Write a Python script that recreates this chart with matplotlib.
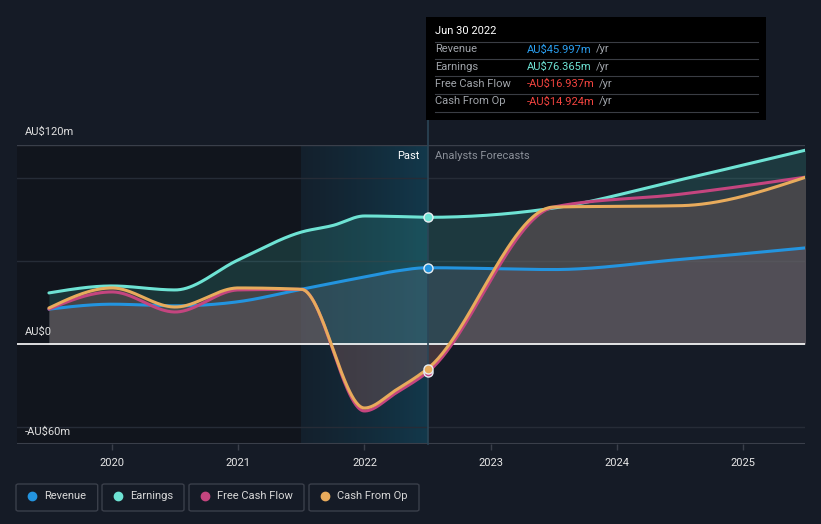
import numpy as np
import matplotlib
matplotlib.use("Agg")
import matplotlib.pyplot as plt
from matplotlib.patches import Rectangle, FancyBboxPatch, Circle
from matplotlib.lines import Line2D

plt.rcParams['font.family'] = ['Roboto', 'DejaVu Sans']

# ---------------- data (AU$ m) ----------------
rev_x = [2019.5, 2020.0, 2020.5, 2021.0, 2021.5, 2021.75, 2022.0, 2022.25, 2022.5, 2023.5, 2024.5, 2025.5]
rev_y = [21.0, 24.0, 23.0, 25.5, 33.0, 36.8, 40.4, 44.0, 46.0, 44.9, 51.0, 58.0]

earn_x = [2019.5, 2020.0, 2020.5, 2021.0, 2021.5, 2021.75, 2022.0, 2022.25, 2022.5, 2023.5, 2024.5, 2025.5]
earn_y = [30.8, 35.0, 32.6, 50.7, 67.5, 71.5, 77.2, 76.9, 76.4, 82.0, 99.0, 117.0]

fcf_x = [2019.5, 2020.0, 2020.5, 2021.0, 2021.5, 2022.0, 2022.25, 2022.5, 2023.5, 2024.5, 2025.5]
fcf_y = [21.0, 31.4, 19.3, 32.6, 33.0, -40.4, -29.5, -16.9, 82.6, 90.3, 100.7]

cfo_x = [2019.5, 2020.0, 2020.5, 2021.0, 2021.5, 2022.0, 2022.25, 2022.5, 2023.5, 2024.5, 2025.5]
cfo_y = [21.7, 33.8, 22.3, 33.8, 33.0, -38.6, -27.7, -14.9, 82.6, 83.4, 100.7]

year_ticks = [2020, 2021, 2022, 2023, 2024, 2025]
y_labels = {120: "AU$120m", 0: "AU$0", -60: "-AU$60m"}

tooltip_date = "Jun 30 2022"
tooltip_rows = [("Revenue", "AU$45.997m"), ("Earnings", "AU$76.365m"),
                ("Free Cash Flow", "-AU$16.937m"), ("Cash From Op", "-AU$14.924m")]
legend_names = ["Revenue", "Earnings", "Free Cash Flow", "Cash From Op"]

now_x = 2022.5
past_start = 2021.5

C_REV = "#2394df"
C_EARN = "#6ee3d4"
C_FCF = "#c4457f"
C_CFO = "#e8ab5c"
BG = "#151b26"


def monotone(x, y, n=60):
    x = np.asarray(x, float); y = np.asarray(y, float)
    h = np.diff(x); s = np.diff(y) / h
    m = len(x)
    t = np.zeros(m)
    for i in range(1, m - 1):
        p = (s[i - 1] * h[i] + s[i] * h[i - 1]) / (h[i - 1] + h[i])
        t[i] = (np.sign(s[i - 1]) + np.sign(s[i])) * min(abs(s[i - 1]), abs(s[i]), 0.5 * abs(p))
    t[0] = (3 * s[0] - t[1]) / 2
    t[-1] = (3 * s[-1] - t[-2]) / 2
    xs, ys = [], []
    for i in range(m - 1):
        u = np.linspace(0, 1, n, endpoint=(i == m - 2))
        h00 = 2 * u**3 - 3 * u**2 + 1
        h10 = u**3 - 2 * u**2 + u
        h01 = -2 * u**3 + 3 * u**2
        h11 = u**3 - u**2
        xs.append(x[i] + u * h[i])
        ys.append(h00 * y[i] + h10 * h[i] * t[i] + h01 * y[i + 1] + h11 * h[i] * t[i + 1])
    return np.concatenate(xs), np.concatenate(ys)


W, H = 821, 524
fig = plt.figure(figsize=(W / 100, H / 100), dpi=100, facecolor=BG)
L, R, T, B = 17, 805, 145, 444
ax = fig.add_axes([L / W, 1 - B / H, (R - L) / W, (B - T) / H])
ax.set_facecolor(BG)
xmin, xmax = 2019.247, 2025.49
ymin, ymax = -60.3, 120
ax.set_xlim(xmin, xmax)
ax.set_ylim(ymin, ymax)
for sp in ax.spines.values():
    sp.set_visible(False)

# darker region before the past window
ax.axvspan(xmin, past_start, color="#0f1217", alpha=0.6, lw=0, zorder=0)
# past highlight gradient
grad = np.linspace(0, 1, 256).reshape(1, -1)
from matplotlib.colors import LinearSegmentedColormap
cmap = LinearSegmentedColormap.from_list("g", [(0.05, 0.25, 0.33, 0.15), (0.07, 0.32, 0.42, 0.55)])
ax.imshow(grad, extent=[past_start, now_x, ymin, ymax], aspect="auto", cmap=cmap, zorder=0.5,
          interpolation="bilinear")

# gridlines
for gv, gc in [(100, "#262c37"), (50, "#262c37"), (-50, "#262c37")]:
    ax.axhline(gv, color=gc, lw=1, zorder=1)
ax.axhline(120, color="#3a3f4a", lw=1, zorder=1)
ax.axhline(ymin, color="#3a3f4a", lw=1.5, zorder=1)

series = [
    (earn_x, earn_y, C_EARN, "#3ba89c", 0.22),
    (rev_x, rev_y, C_REV, "#5a6a80", 0.30),
    (cfo_x, cfo_y, C_CFO, "#8a6a5a", 0.28),
    (fcf_x, fcf_y, C_FCF, "#7a4a60", 0.18),
]
curves = {}
for xs_, ys_, c, fc, a in series:
    xx, yy = monotone(xs_, ys_)
    curves[c] = (xx, yy)
    ax.fill_between(xx, yy, 0, color=fc, alpha=a, lw=0, zorder=2)

ax.axhline(0, color="white", lw=1.2, zorder=3)

for c in [C_REV, C_EARN, C_FCF, C_CFO]:
    xx, yy = curves[c]
    ax.plot(xx, yy, color=c, lw=2.2, zorder=4, solid_capstyle="round")

# vertical now line
ax.plot([now_x, now_x], [ymin, 135], color="#2b4657", lw=1.2, zorder=3.5, clip_on=False)

# markers at now
for xs_, ys_, c in [(rev_x, rev_y, C_REV), (earn_x, earn_y, C_EARN), (fcf_x, fcf_y, C_FCF), (cfo_x, cfo_y, C_CFO)]:
    i = xs_.index(now_x)
    ax.plot([now_x], [ys_[i]], "o", ms=6.5, mfc=c, mec="#e8eef2", mew=1.0, zorder=5)

# x ticks
ax.set_xticks(year_ticks)
ax.set_xticklabels([str(y) for y in year_ticks])
ax.tick_params(axis="x", colors="#3a3f4a", length=4, width=1, labelcolor="#e6e6e6", labelsize=8, pad=6)
ax.set_yticks([])

# y labels
def fy(v):
    return 344 - v * 1.658

fig.text(25 / W, 1 - 132 / H, y_labels[120], color="#e0e0e0", fontsize=8, va="center", ha="left")
fig.text(25 / W, 1 - 332 / H, y_labels[0], color="#e0e0e0", fontsize=8, va="center", ha="left")
fig.text(25 / W, 1 - 432 / H, y_labels[-60], color="#e0e0e0", fontsize=8, va="center", ha="left")

# Past / Analysts Forecasts
fig.text(419 / W, 1 - 156 / H, "Past", color="#ffffff", fontsize=8, va="center", ha="right")
fig.text(435 / W, 1 - 156 / H, "Analysts Forecasts", color="#8b9099", fontsize=8, va="center", ha="left")

# tooltip
fig.patches.append(Rectangle((426 / W, 1 - 120 / H), (766 - 426) / W, (120 - 17) / H,
                             transform=fig.transFigure, facecolor="#000000", edgecolor="none", zorder=10))
fig.text(435 / W, 1 - 31 / H, tooltip_date, color="#ffffff", fontsize=8, va="center", ha="left", zorder=11)
for yy in [41.5, 58.5, 76, 93.5, 111.5]:
    fig.lines.append(Line2D([435 / W, 758 / W], [1 - yy / H, 1 - yy / H], transform=fig.transFigure,
                            color="#3a3d44", lw=0.8, zorder=11))
val_colors = ["#2a9ff0", "#6ee3d4", "#f2443f", "#f2443f"]
row_y = [49.5, 66.5, 84, 101.5]
val_texts = []
for (lab, val), vc, yy in zip(tooltip_rows, val_colors, row_y):
    fig.text(435 / W, 1 - yy / H, lab, color="#a0a4aa", fontsize=8, va="center", ha="left", zorder=11)
    t = fig.text(527 / W, 1 - yy / H, val, color=vc, fontsize=8, va="center", ha="left", zorder=11)
    val_texts.append((t, yy))

fig.canvas.draw()
r = fig.canvas.get_renderer()
for t, yy in val_texts:
    bb = t.get_window_extent(renderer=r)
    fig.text((bb.x1 + 4) / W, 1 - yy / H, "/yr", color="#a0a4aa", fontsize=8, va="center", ha="left", zorder=11)

# legend
boxes = [(16, 97.7), (102, 184), (189, 304), (309, 419)]
dots = [32, 117.7, 205, 325]
texts_x = [44, 130, 217, 337]
cols = [C_REV, C_EARN, C_FCF, C_CFO]
for (x0, x1), dx, tx, name, c in zip(boxes, dots, texts_x, legend_names, cols):
    fig.patches.append(FancyBboxPatch((x0 / W, 1 - 511 / H), (x1 - x0) / W, (511 - 484) / H,
                                      boxstyle="round,pad=0,rounding_size=0.003",
                                      transform=fig.transFigure, facecolor="none", edgecolor="#3a3f4a", lw=1))
    fig.patches.append(Circle((dx / W, 1 - 496 / H), 0, transform=fig.transFigure))
    fig.lines.append(Line2D([dx / W], [1 - 496 / H], marker="o", ms=6, color=c, transform=fig.transFigure))
    fig.text(tx / W, 1 - 496 / H, name, color="#d8d8d8", fontsize=8, va="center", ha="left")

fig.savefig("out.png", dpi=100, facecolor=BG)
